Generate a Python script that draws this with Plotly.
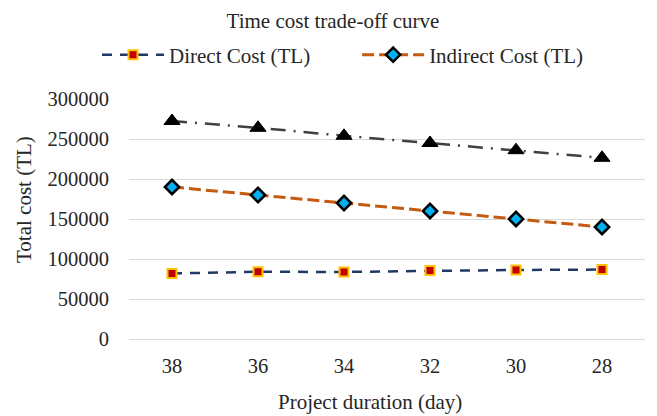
import plotly.graph_objects as go

durations = ["38", "36", "34", "32", "30", "28"]
direct_cost = [82000, 84000, 83800, 85500, 86300, 86800]
indirect_cost = [190000, 180000, 170000, 160000, 150000, 140000]
total_cost = [272500, 264000, 254000, 245000, 236000, 226500]
series_names = ["Direct Cost (TL)", "Indirect Cost (TL)", "Total Cost (TL)"]

font_family = "Liberation Serif"
W, H = 649, 408  # page body has an 8px margin
L, R, T, B = 121, 12, 91, 77
PW, PH = W - L - R, H - T - B
legend_pad = "\u00a0" * 8  # spacing between the two legend entries

fig = go.Figure()
fig.add_trace(go.Scatter(
    x=durations, y=direct_cost, name=series_names[0] + legend_pad, mode="lines+markers",
    line=dict(color="#1F3864", width=2.5, dash="10px,8px"),
    marker=dict(symbol="square", size=9, color="#C00000",
                line=dict(color="#FFC000", width=2)),
))
fig.add_trace(go.Scatter(
    x=durations, y=indirect_cost, name=series_names[1], mode="lines+markers",
    line=dict(color="#C55A11", width=3, dash="12px,5px"),
    marker=dict(symbol="diamond", size=11, color="#00B0F0",
                line=dict(color="black", width=2.5)),
))
fig.add_trace(go.Scatter(
    x=durations, y=total_cost, name=series_names[2], mode="lines+markers",
    showlegend=False,
    line=dict(color="#404040", width=2.5, dash="15px,8px,2px,8px"),
    marker=dict(symbol="triangle-up", size=14, color="black",
                line=dict(color="black", width=1)),
))

fig.update_layout(
    width=W, height=H,
    margin=dict(l=L, r=R, t=T, b=B, autoexpand=False),
    paper_bgcolor="white", plot_bgcolor="white",
    font=dict(family=font_family, size=21, color="#262626"),
    title=dict(text="Time cost trade-off curve", x=(333 - 8) / W, xanchor="center",
               xref="container", yref="container",
               y=1 - 5 / H, yanchor="top", pad=dict(t=0, b=0),
               font=dict(family=font_family, size=21, color="#262626")),
    legend=dict(orientation="h", x=(97 - 8) / W, xanchor="left", xref="container",
                yref="container", y=1 - 47 / H, yanchor="middle",
                font=dict(family=font_family, size=21, color="#262626"),
                itemwidth=62, tracegroupgap=0),
    showlegend=True,
    annotations=[
        dict(text="Total cost (TL)", textangle=-90, xref="paper", yref="paper",
             x=(24 - 8 - L) / PW, y=(T + PH - (200 - 8)) / PH,
             xanchor="center", yanchor="middle", showarrow=False,
             font=dict(family=font_family, size=21, color="#262626")),
        dict(text="Project duration (day)", xref="paper", yref="paper",
             x=(370 - 8 - L) / PW, y=(T + PH - (402 - 8)) / PH,
             xanchor="center", yanchor="middle", showarrow=False,
             font=dict(family=font_family, size=21, color="#262626")),
    ],
)
fig.update_xaxes(
    type="category", range=[-0.5, 5.5], showgrid=False, showline=True,
    linecolor="#D9D9D9", linewidth=1,
    ticks="", tickfont=dict(size=20.5), ticklabelstandoff=8,
)
fig.update_yaxes(
    range=[0, 300000], dtick=50000, tickformat="d",
    showgrid=True, gridcolor="#D9D9D9", gridwidth=1, zeroline=False,
    showline=False, ticks="", tickfont=dict(size=20.5), ticklabelstandoff=19,
)

fig.write_html("out.html")
